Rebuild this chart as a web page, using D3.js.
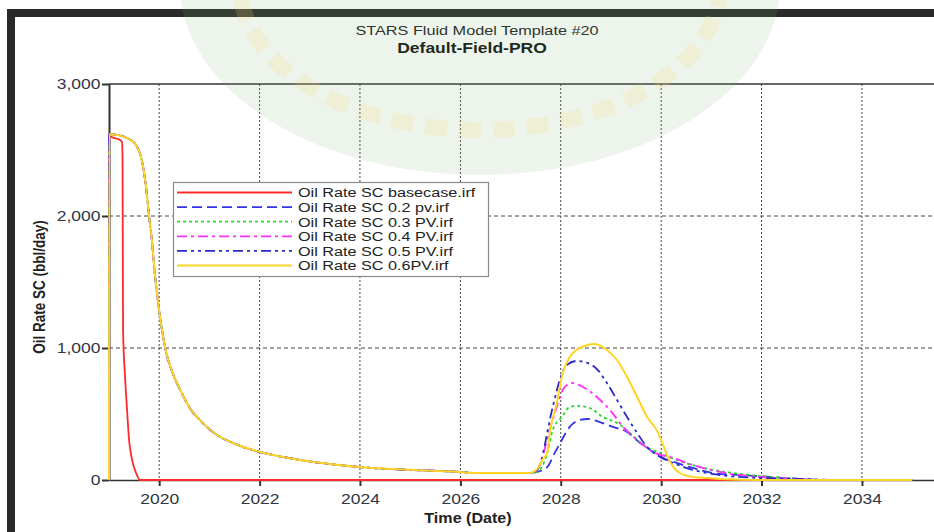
<!DOCTYPE html>
<html>
<head>
<meta charset="utf-8">
<script src="https://cdn.jsdelivr.net/npm/d3@7"></script>
<style>
  body { margin: 0; background: #fff; }
  svg { display: block; font-family: "Liberation Sans", Arial, sans-serif; }
</style>
</head>
<body>
<div id="chart"></div>
<script>
// titles / labels
const titleTop = "STARS Fluid Model Template #20";
const titleSub = "Default-Field-PRO";
const yLabel = "Oil Rate SC (bbl/day)";
const xLabel = "Time (Date)";
const yTicks = [0, 1000, 2000, 3000];
const xTickYears = [2020, 2022, 2024, 2026, 2028, 2030, 2032, 2034];

// [decimal year, bbl/day]
const basecase = [
    [2019.00, 0], [2019.005, 2620], [2019.04, 2600], [2019.22, 2576], [2019.26, 2560],
    [2019.27, 2420], [2019.28, 1136], [2019.32, 780], [2019.36, 530], [2019.40, 303],
    [2019.46, 152], [2019.54, 53], [2019.62, 0], [2035.0, 0]
];

// early decline shared by the five injection cases (lies under the yellow curve)
const commonDecline = [
    [2019.00, 0], [2019.005, 2620], [2019.36, 2591], [2019.56, 2523], [2019.68, 2371],
    [2019.76, 2144], [2019.80, 1992], [2019.86, 1795], [2019.90, 1614], [2020.02, 1230],
    [2020.12, 1000], [2020.27, 811], [2020.45, 659], [2020.61, 545],
    [2020.81, 455], [2021.15, 341], [2021.47, 280], [2022.01, 212], [2022.47, 174],
    [2022.80, 152], [2024.00, 98], [2025.99, 61], [2026.33, 53], [2027.39, 53]
];

const rise02 = [
    [2027.53, 61], [2027.73, 98], [2027.88, 205], [2028.02, 303], [2028.18, 402],
    [2028.38, 455], [2028.54, 462], [2028.78, 439], [2029.04, 402], [2029.32, 364],
    [2029.58, 280], [2029.84, 212], [2030.04, 167], [2030.31, 129], [2030.63, 91],
    [2031.03, 53], [2031.57, 38], [2032.17, 23], [2032.76, 8], [2033.36, 0], [2035.0, 0]
];
const rise03 = [
    [2027.53, 61], [2027.73, 205], [2027.84, 379], [2028.02, 477], [2028.18, 553],
    [2028.34, 561], [2028.58, 545], [2028.84, 477], [2029.12, 432], [2029.38, 356],
    [2029.64, 265], [2029.98, 205], [2030.31, 152], [2030.77, 98], [2031.43, 53],
    [2032.17, 23], [2032.76, 8], [2033.16, 0], [2035.0, 0]
];
const rise04 = [
    [2027.53, 76], [2027.78, 379], [2027.92, 553], [2028.08, 705], [2028.24, 735],
    [2028.44, 705], [2028.72, 629], [2028.98, 530], [2029.24, 402], [2029.52, 303],
    [2029.84, 212], [2030.24, 167], [2030.63, 114], [2031.17, 61], [2031.97, 23],
    [2032.76, 8], [2033.16, 0], [2035.0, 0]
];
const rise05 = [
    [2027.53, 76], [2027.84, 553], [2027.98, 758], [2028.12, 871], [2028.32, 902],
    [2028.54, 886], [2028.74, 833], [2028.92, 735], [2029.12, 606], [2029.32, 477],
    [2029.52, 356], [2029.72, 250], [2029.98, 174], [2030.24, 129], [2030.63, 76],
    [2031.17, 38], [2031.97, 15], [2032.76, 8], [2033.56, 0], [2035.0, 0]
];
const rise06 = [
    [2027.55, 91], [2027.63, 152], [2027.73, 205], [2027.78, 356], [2027.92, 583],
    [2028.04, 811], [2028.18, 932], [2028.38, 1000], [2028.68, 1030], [2028.92, 985],
    [2029.12, 909], [2029.32, 780], [2029.52, 629], [2029.72, 477], [2029.92, 370],
    [2030.04, 265], [2030.18, 136], [2030.37, 53], [2030.63, 23], [2030.91, 15],
    [2031.17, 8], [2031.97, 0], [2035.0, 0]
];

const seriesNames = [
    "Oil Rate SC basecase.irf", "Oil Rate SC 0.2 pv.irf", "Oil Rate SC 0.3 PV.irf",
    "Oil Rate SC 0.4 PV.irf", "Oil Rate SC 0.5 PV.irf", "Oil Rate SC 0.6PV.irf"
];
const seriesData = [
    basecase,
    commonDecline.concat(rise02),
    commonDecline.concat(rise03),
    commonDecline.concat(rise04),
    commonDecline.concat(rise05),
    commonDecline.concat(rise06)
];
const seriesColors = ["#ff2a2a", "#3434e6", "#22dd22", "#ff30ff", "#2a2ac8", "#ffd426"];
const seriesDash = [null, "10,5", "3,3", "10,4,3,4", "10,4,3,4,3,4", null];

const W = 934, H = 532;
const plot = { left: 109, top: 84, bottom: 480 };
const stretch = 1.25; // the source picture is widened, text looks wide

const toDate = y => {
    const yr = Math.floor(y);
    return new Date(Date.UTC(yr, 0, 1) + (y - yr) * 365.25 * 864e5);
};

const svg = d3.select("#chart").append("svg")
    .attr("width", W).attr("height", H);

svg.append("rect").attr("width", W).attr("height", H).attr("fill", "#fff");

// dark frame
svg.append("rect").attr("x", 7).attr("y", 9).attr("width", W - 7).attr("height", 8).attr("fill", "#2a2a2a");
svg.append("rect").attr("x", 7).attr("y", 9).attr("width", 8).attr("height", H - 9).attr("fill", "#2a2a2a");

const x = d3.scaleTime()
    .domain([toDate(2019), toDate(2037)])
    .range([plot.left, plot.left + 18 * 50.2]);

const y = d3.scaleLinear()
    .domain([0, 3000])
    .range([plot.bottom, plot.top]);

// grid
svg.append("g").selectAll("line")
    .data(xTickYears)
    .join("line")
    .attr("x1", d => x(toDate(d))).attr("x2", d => x(toDate(d)))
    .attr("y1", plot.top).attr("y2", plot.bottom)
    .attr("stroke", "#444").attr("stroke-width", 1).attr("stroke-dasharray", "2,2");

svg.append("g").selectAll("line")
    .data([1000, 2000])
    .join("line")
    .attr("x1", plot.left).attr("x2", W)
    .attr("y1", d => y(d)).attr("y2", d => y(d))
    .attr("stroke", "#444").attr("stroke-width", 1).attr("stroke-dasharray", "4,3");

// top border
svg.append("line")
    .attr("x1", plot.left).attr("x2", W)
    .attr("y1", plot.top).attr("y2", plot.top)
    .attr("stroke", "#333").attr("stroke-width", 1.5);

// axes
const xAxis = svg.append("g")
    .attr("transform", `translate(0,${plot.bottom})`)
    .call(d3.axisBottom(x)
        .tickValues(xTickYears.map(toDate))
        .tickFormat(d3.timeFormat("%Y"))
        .tickSize(6).tickSizeOuter(0));
xAxis.select(".domain").attr("stroke", "#333").attr("stroke-width", 1.5);
xAxis.selectAll(".tick line").attr("stroke", "#333").attr("stroke-width", 2);
xAxis.selectAll(".tick text")
    .attr("dy", "1.05em")
    .attr("transform", `scale(${stretch},1)`)
    .style("font-size", "14px").attr("fill", "#2e3643");

const yAxis = svg.append("g")
    .attr("transform", `translate(${plot.left},0)`)
    .call(d3.axisLeft(y)
        .tickValues(yTicks)
        .tickFormat(d3.format(","))
        .tickSize(7).tickSizeOuter(0));
yAxis.select(".domain").attr("stroke", "#333").attr("stroke-width", 2);
yAxis.selectAll(".tick line").attr("stroke", "#333").attr("stroke-width", 2);
yAxis.selectAll(".tick text")
    .attr("x", -8.5 / stretch)
    .attr("transform", `scale(${stretch},1)`)
    .style("font-size", "14px").attr("fill", "#2e3643");

// lines
const line = d3.line()
    .x(d => x(toDate(d[0])))
    .y(d => y(d[1]))
    .curve(d3.curveMonotoneX);

svg.append("g").selectAll("path")
    .data(seriesData)
    .join("path")
    .attr("d", line)
    .attr("fill", "none")
    .attr("stroke", (d, i) => seriesColors[i])
    .attr("stroke-width", (d, i) => i === 5 ? 2 : 1.8)
    .attr("stroke-dasharray", (d, i) => seriesDash[i]);

// titles
svg.append("text")
    .attr("transform", `translate(477,35) scale(${stretch},1)`)
    .attr("text-anchor", "middle")
    .style("font-size", "13px").attr("fill", "#222")
    .text(titleTop);
svg.append("text")
    .attr("transform", `translate(472,53) scale(${stretch},1)`)
    .attr("text-anchor", "middle")
    .style("font-size", "14px").style("font-weight", "bold").attr("fill", "#111")
    .text(titleSub);

svg.append("text")
    .attr("transform", `translate(45,287) scale(${stretch},1) rotate(-90)`)
    .attr("text-anchor", "middle")
    .style("font-size", "13.5px").style("font-weight", "bold").attr("fill", "#222")
    .text(yLabel);
svg.append("text")
    .attr("transform", `translate(468,523) scale(1.15,1)`)
    .attr("text-anchor", "middle")
    .style("font-size", "14px").style("font-weight", "bold").attr("fill", "#222")
    .text(xLabel);

// legend
const legend = svg.append("g");
legend.append("rect")
    .attr("x", 173.5).attr("y", 182.5).attr("width", 315).attr("height", 94)
    .attr("fill", "#fff").attr("stroke", "#8a8a8a").attr("stroke-width", 1.2);

const rows = legend.selectAll("g.row")
    .data(seriesNames)
    .join("g")
    .attr("class", "row")
    .attr("transform", (d, i) => `translate(0,${192.5 + i * 14.6})`);
rows.append("line")
    .attr("x1", 177).attr("x2", 292)
    .attr("stroke", (d, i) => seriesColors[i])
    .attr("stroke-width", 1.8)
    .attr("stroke-dasharray", (d, i) => seriesDash[i]);
rows.append("text")
    .attr("transform", "translate(298,0) scale(1.2,1)")
    .attr("dy", "0.36em")
    .style("font-size", "13.5px").attr("fill", "#222")
    .text(d => d);

// faint watermark emblem over the top of the page
const mark = svg.append("g").attr("pointer-events", "none");
mark.append("ellipse")
    .attr("cx", 480).attr("cy", -15).attr("rx", 300).attr("ry", 190)
    .attr("fill", "#7fb47a").attr("opacity", 0.14);
mark.append("ellipse")
    .attr("cx", 480).attr("cy", -15).attr("rx", 240).attr("ry", 145)
    .attr("fill", "none").attr("stroke", "#f3d86a").attr("stroke-width", 16)
    .attr("stroke-dasharray", "22,12").attr("opacity", 0.18);
</script>
</body>
</html>
